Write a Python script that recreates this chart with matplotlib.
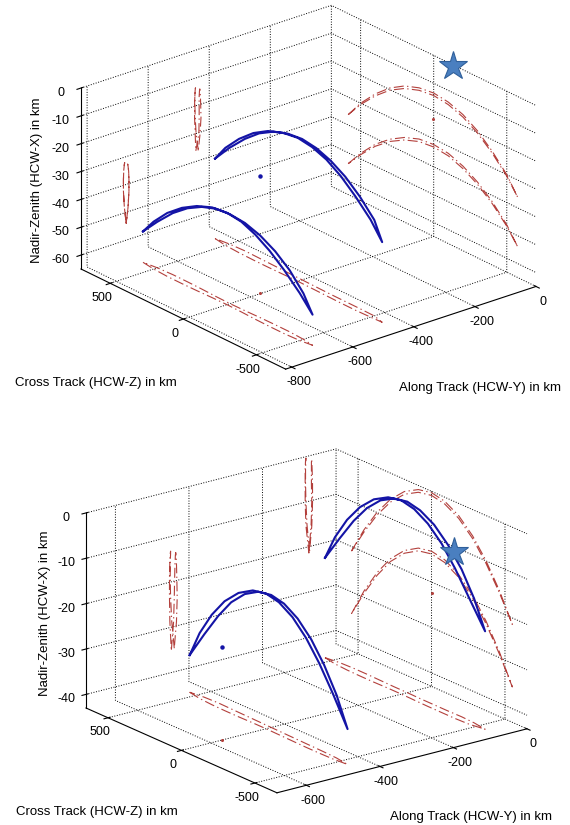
import numpy as np
import matplotlib
matplotlib.use("Agg")
import matplotlib.pyplot as plt
from mpl_toolkits.mplot3d import proj3d

plt.rcParams['font.family'] = ['Liberation Sans', 'DejaVu Sans']
plt.rcParams['font.size'] = 9
plt.rcParams['axes.unicode_minus'] = False
plt.rcParams['grid.linestyle'] = ':'
plt.rcParams['grid.linewidth'] = 0.7
plt.rcParams['grid.color'] = 'black'

##------------------------------------------##
##  TOP PANEL : two relative-motion loops   ##
##------------------------------------------##
top_cross = [585, 500, 400, 300, 200, 100, 0, -100, -200, -300, -400, -500, -575]

topA_along_out = [-672, -678, -681, -681, -680, -678, -677, -678, -680, -681, -681, -678, -672]
topA_along_ret = [-672, -666, -663, -663, -664, -666, -667, -666, -664, -663, -663, -666, -672]
topA_z_out = [-53.9, -48.0, -42.2, -37.8, -34.6, -32.6, -32.0, -32.6, -34.6, -37.8, -42.2, -48.0, -54.0]
topA_z_ret = [-53.9, -48.5, -42.9, -38.6, -35.5, -33.5, -32.9, -33.5, -35.5, -38.6, -42.9, -48.5, -54.0]

topB_along_out = [-436, -443, -446, -447, -447, -446, -445, -446, -447, -448, -448, -446, -444]
topB_along_ret = [-436, -430, -427, -428, -429, -430, -431, -432, -433, -433, -433, -434, -444]
topB_z_out = [-36.3, -30.0, -24.1, -19.4, -16.1, -14.2, -13.5, -14.2, -16.1, -19.4, -24.1, -30.0, -36.2]
topB_z_ret = [-36.3, -30.5, -24.8, -20.2, -17.0, -15.1, -14.4, -15.1, -17.0, -20.2, -24.8, -30.5, -36.2]

top_target = [-566, 5, -23]
top_star = [0, -130, -0.6]

top_xticks = [-800, -600, -400, -200, 0]
top_zticks = [-60, -50, -40, -30, -20, -10, 0]

##------------------------------------------##
##  BOTTOM PANEL                            ##
##------------------------------------------##
bot_cross = [545, 460, 370, 280, 185, 90, 0, -90, -185, -280, -370, -460, -550]

bot1_along_out = [-440, -447, -450, -451, -451, -450, -450, -451, -452, -453, -453, -452, -448]
bot1_along_ret = [-440, -434, -432, -433, -434, -435, -436, -437, -438, -439, -440, -442, -448]
bot1_z_out = [-34.8, -28.6, -23.2, -18.9, -15.7, -13.8, -13.2, -13.8, -15.7, -18.9, -23.2, -28.6, -35.2]
bot1_z_ret = [-34.8, -29.1, -23.8, -19.5, -16.3, -14.4, -13.8, -14.4, -16.3, -19.5, -23.8, -29.1, -35.2]

bot2_along_out = [-72, -79, -82, -83, -83, -82, -82, -83, -84, -84, -84, -82, -74]
bot2_along_ret = [-72, -66, -64, -64, -65, -66, -66, -67, -67, -67, -66, -68, -74]
bot2_z_out = [-21.0, -15.1, -9.9, -5.8, -2.7, -0.9, -0.3, -0.9, -2.7, -5.8, -9.9, -15.1, -21.4]
bot2_z_ret = [-21.0, -15.6, -10.5, -6.4, -3.3, -1.5, -0.9, -1.5, -3.3, -6.4, -10.5, -15.6, -21.4]

bot_target = [-569, 0, -22.5]
bot_star = [0, -155, -11.2]

bot_xticks = [-600, -400, -200, 0]
bot_zticks = [-40, -30, -20, -10, 0]

cross_ticks = [-500, 0, 500]

blue = '#1414a6'
red = '#b3403c'
dashdot = (0, (9, 3, 1.2, 3))

W, H = 570, 825
fig = plt.figure(figsize=(W / 100, H / 100), dpi=100)


def panel(ax, cross, loops, target, star, xlim, ylim, zlim, xt, zt, elev, azim, aspect):
    ax.set_proj_type('ortho')
    ax.view_init(elev=elev, azim=azim)
    ax.set_box_aspect(aspect)
    ax.computed_zorder = False
    ax.patch.set_alpha(0)
    for axis in (ax.xaxis, ax.yaxis, ax.zaxis):
        axis.set_pane_color((1, 1, 1, 0))
        axis.pane.set_edgecolor('black')
        axis.pane.set_linestyle(':')
        axis.pane.set_linewidth(0.7)
        axis._axinfo['grid'].update(color='black', linestyle=':', linewidth=0.7)
        axis.line.set_linewidth(0.8)
    c = np.array(cross + cross[::-1], dtype=float)
    for a_out, a_ret, z_out, z_ret in loops:
        a = np.array(a_out + a_ret[::-1], dtype=float)
        z = np.array(z_out + z_ret[::-1], dtype=float)
        ax.plot(np.full_like(a, xlim[1]), c, z, color=red, ls=dashdot, lw=0.8, zorder=2)
        ax.plot(a, np.full_like(c, ylim[1]), z, color=red, ls=dashdot, lw=0.8, zorder=2)
        ax.plot(a, c, np.full_like(z, zlim[0]), color=red, ls=dashdot, lw=0.8, zorder=2)
        ax.plot(a, c, z, color=blue, lw=1.5, zorder=3)
    tx, ty, tz = target
    ax.plot([tx], [ty], [tz], marker='o', ms=2.2, color=blue, zorder=3)
    ax.plot([xlim[1]], [ty], [tz], marker='o', ms=1.2, color=red, zorder=2)
    ax.plot([tx], [ty], [zlim[0]], marker='o', ms=1.2, color=red, zorder=2)
    ax.plot([star[0]], [star[1]], [star[2]], marker='*', ms=21, mfc='#4a7fc0',
            mec='#2f5f9a', mew=0.8, zorder=6)
    ax.set_xlim(xlim)
    ax.set_ylim(ylim)
    ax.set_zlim(zlim)
    ax.set_xticks(xt)
    ax.set_yticks(cross_ticks)
    ax.set_zticks(zt)
    ax.tick_params(labelsize=9)
    ax.xaxis.set_tick_params(pad=-2)
    ax.yaxis.set_tick_params(pad=-2)
    ax.zaxis.set_tick_params(pad=0)


ax1 = fig.add_axes([0.1, 0.55, 0.8, 0.4], projection='3d')
panel(ax1, top_cross,
      [(topA_along_out, topA_along_ret, topA_z_out, topA_z_ret),
       (topB_along_out, topB_along_ret, topB_z_out, topB_z_ret)],
      top_target, top_star, (-820, 0), (-700, 700), (-65, 0),
      top_xticks, top_zticks, 23.7, -129.4, (1, 0.995, 0.61))

ax2 = fig.add_axes([0.1, 0.05, 0.8, 0.4], projection='3d')
panel(ax2, bot_cross,
      [(bot1_along_out, bot1_along_ret, bot1_z_out, bot1_z_ret),
       (bot2_along_out, bot2_along_ret, bot2_z_out, bot2_z_ret)],
      bot_target, bot_star, (-680, 0), (-650, 650), (-43, 0),
      bot_xticks, bot_zticks, 19.7, -127.2, (1, 1.006, 0.66))


# place each box so that its floor corners land where they are in the picture
def corner_px(ax, x, y, z):
    xs, ys, _ = proj3d.proj_transform(np.array([x]), np.array([y]), np.array([z]), ax.get_proj())
    return np.array(ax.transData.transform((xs[0], ys[0])))


fits = [(ax1, (81, 269), (536, 287)), (ax2, (86, 708), (527, 729))]
for _ in range(3):
    fig.canvas.draw()
    for ax, lt, rt in fits:
        x0, x1 = ax.get_xlim3d()
        y0, y1 = ax.get_ylim3d()
        z0, z1 = ax.get_zlim3d()
        L = corner_px(ax, x0, y1, z0)
        R = corner_px(ax, x1, y0, z0)
        Lt = np.array([lt[0], H - lt[1]])
        Rt = np.array([rt[0], H - rt[1]])
        bb = ax.get_position()
        s0 = bb.width * W
        c0 = np.array([(bb.x0 + bb.x1) / 2 * W, (bb.y0 + bb.y1) / 2 * H])
        k = (Rt[0] - Lt[0]) / (R[0] - L[0])
        s = s0 * k
        c = Lt - k * (L - c0)
        ax.set_position([(c[0] - s / 2) / W, (c[1] - s / 2) / H, s / W, s / H])

lab = dict(fontsize=9.5, ha='center', va='center')
fig.text(37 / W, 1 - 180 / H, 'Nadir-Zenith (HCW-X) in km', rotation=90, **lab)
fig.text(96 / W, 1 - 383 / H, 'Cross Track (HCW-Z) in km', **lab)
fig.text(480 / W, 1 - 388 / H, 'Along Track (HCW-Y) in km', **lab)
fig.text(45 / W, 1 - 613 / H, 'Nadir-Zenith (HCW-X) in km', rotation=90, **lab)
fig.text(97 / W, 1 - 812 / H, 'Cross Track (HCW-Z) in km', **lab)
fig.text(471 / W, 1 - 817 / H, 'Along Track (HCW-Y) in km', **lab)

fig.savefig('out.png', dpi=100)
